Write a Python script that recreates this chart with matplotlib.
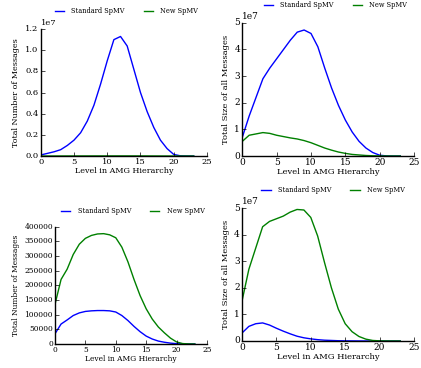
import matplotlib
matplotlib.use("Agg")
from matplotlib import pyplot as plt

plt.style.use("classic")
plt.rcParams['font.family'] = ['DejaVu Serif']

levels = list(range(24))

# total number of messages, case 1
num_std_1 = [0.01e7, 0.025e7, 0.04e7, 0.06e7, 0.10e7, 0.15e7, 0.22e7, 0.33e7, 0.48e7, 0.68e7,
             0.90e7, 1.10e7, 1.13e7, 1.04e7, 0.82e7, 0.60e7, 0.42e7, 0.27e7, 0.15e7, 0.07e7,
             0.015e7, 0.002e7, 0.0005e7, 0.0002e7]
num_new_1 = [2000, 3000, 4000, 5000, 6000, 7000, 8000, 9000, 10000, 11000,
             12000, 12500, 13000, 12500, 11500, 10000, 8000, 6000, 4000, 2500,
             1200, 500, 200, 100]

# total size of messages, case 1
size_std_1 = [0.7e7, 1.5e7, 2.2e7, 2.9e7, 3.3e7, 3.65e7, 4.0e7, 4.35e7, 4.65e7, 4.73e7,
              4.6e7, 4.1e7, 3.3e7, 2.55e7, 1.9e7, 1.35e7, 0.9e7, 0.55e7, 0.3e7, 0.13e7,
              0.03e7, 0.005e7, 0.001e7, 0.0005e7]
size_new_1 = [0.55e7, 0.78e7, 0.83e7, 0.88e7, 0.85e7, 0.78e7, 0.73e7, 0.68e7, 0.64e7, 0.58e7,
              0.5e7, 0.4e7, 0.3e7, 0.22e7, 0.15e7, 0.1e7, 0.06e7, 0.04e7, 0.02e7, 0.01e7,
              0.005e7, 0.002e7, 0.001e7, 0.0005e7]

# total number of messages, case 2
num_std_2 = [35000, 68000, 82000, 97000, 106000, 111000, 113000, 114000, 114000, 113000,
             109000, 97000, 80000, 60000, 42000, 27000, 17000, 10000, 6000, 3000,
             1200, 400, 100, 30]
num_new_2 = [135000, 220000, 255000, 305000, 340000, 360000, 370000, 375000, 376000, 372000,
             362000, 330000, 280000, 220000, 165000, 120000, 85000, 58000, 38000, 20000,
             7000, 1500, 300, 50]

# total size of messages, case 2
size_std_2 = [0.3e7, 0.55e7, 0.65e7, 0.68e7, 0.6e7, 0.48e7, 0.37e7, 0.27e7, 0.18e7, 0.12e7,
              0.08e7, 0.05e7, 0.03e7, 0.02e7, 0.01e7, 0.006e7, 0.004e7, 0.002e7, 0.001e7, 0.0005e7,
              0.0003e7, 0.0002e7, 0.0001e7, 0.0001e7]
size_new_2 = [1.5e7, 2.7e7, 3.5e7, 4.3e7, 4.5e7, 4.6e7, 4.7e7, 4.85e7, 4.95e7, 4.93e7,
              4.65e7, 3.95e7, 2.95e7, 2.0e7, 1.2e7, 0.65e7, 0.35e7, 0.17e7, 0.07e7, 0.02e7,
              0.005e7, 0.002e7, 0.001e7, 0.0005e7]

# rect, std, new, ylabel, legend centre, tick size, label size, ylabel x
panels = [
    ([0.0967, 0.576, 0.395, 0.345], num_std_1, num_new_1, "Total Number of Messages", (0.298, 0.970), 6, 5.8, 0.048),
    ([0.5755, 0.576, 0.408, 0.362], size_std_1, size_new_1, "Total Size of all Messages", (0.7945, 0.986), 6.5, 6, 0.546),
    ([0.1306, 0.0652, 0.361, 0.319], num_std_2, num_new_2, "Total Number of Messages", (0.313, 0.427), 5.4, 5.4, 0.048),
    ([0.5748, 0.0734, 0.4085, 0.361], size_std_2, size_new_2, "Total Size of all Messages", (0.789, 0.484), 6.5, 6, 0.546),
]

fig = plt.figure(figsize=(4.21, 3.68), dpi=100)
fig.patch.set_facecolor("white")

for rect, std, new, ylab, leg_pos, tsize, lsize, ylx in panels:
    ax = fig.add_axes(rect)
    ax.plot(levels, std, color="b", lw=1, label="Standard SpMV")
    ax.plot(levels, new, color="g", lw=1, label="New SpMV")
    ax.set_xlim(0, 25)
    ax.set_ylim(bottom=0)
    ax.spines['top'].set_visible(False)
    ax.spines['right'].set_visible(False)
    ax.xaxis.set_ticks_position('bottom')
    ax.yaxis.set_ticks_position('left')
    ax.tick_params(labelsize=tsize, length=3, direction='in', pad=1.5)
    ax.yaxis.get_offset_text().set_fontsize(tsize)
    ax.set_xlabel("Level in AMG Hierarchy", fontsize=lsize, labelpad=0.5)
    ax.set_ylabel(ylab, fontsize=lsize)
    # put the y label where the reference has it
    ax.yaxis.set_label_coords(ylx, rect[1] + rect[3] / 2, transform=fig.transFigure)
    ax.legend(loc="center", bbox_to_anchor=leg_pos, bbox_transform=fig.transFigure,
              ncol=2, frameon=False, fontsize=4.8, handlelength=2, columnspacing=2.5)

fig.savefig("out.png", dpi=100)
